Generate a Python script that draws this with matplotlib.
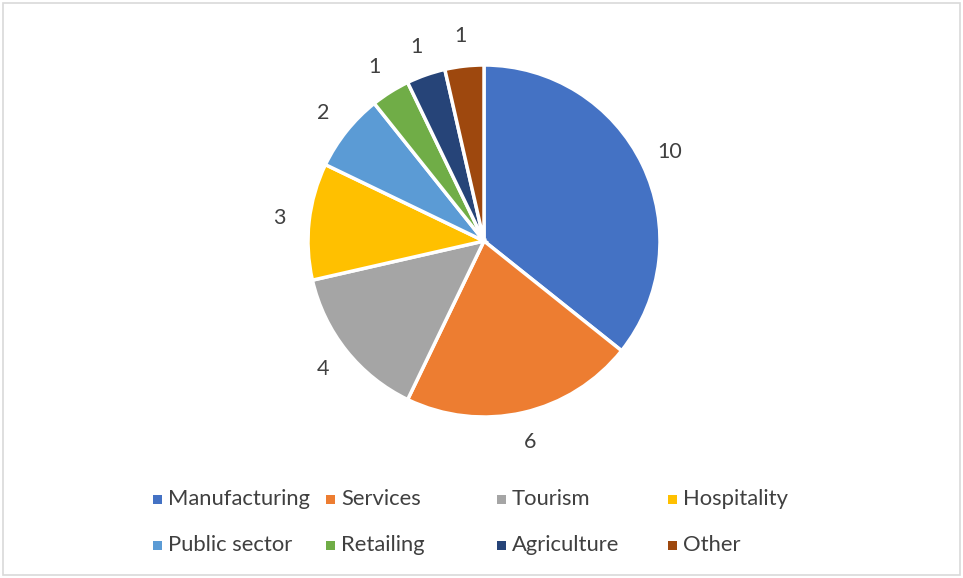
import matplotlib
matplotlib.use("Agg")
import matplotlib.pyplot as plt
from matplotlib.patches import Rectangle

categories = ["Manufacturing", "Services", "Tourism", "Hospitality",
              "Public sector", "Retailing", "Agriculture", "Other"]
counts = [10, 6, 4, 3, 2, 1, 1, 1]
colors = ["#4472C4", "#ED7D31", "#A5A5A5", "#FFC000",
          "#5B9BD5", "#70AD47", "#264478", "#9E480E"]

W, H = 963, 578
fig = plt.figure(figsize=(W / 100, H / 100), dpi=100)
fig.patch.set_facecolor("white")

# light chart-area border
fig.patches.append(Rectangle((3 / W, 3 / H), (W - 6) / W, (H - 6) / H,
                             transform=fig.transFigure, fill=False,
                             edgecolor="#D9D9D9", linewidth=1.2))

cx, cy, r = 484, 241, 176
ax = fig.add_axes([(cx - r) / W, (H - cy - r) / H, 2 * r / W, 2 * r / H])
wedges, texts = ax.pie(counts, colors=colors, startangle=90, counterclock=False,
                       labels=[str(c) for c in counts], labeldistance=1.17,
                       wedgeprops=dict(edgecolor="white", linewidth=2.5),
                       textprops=dict(fontsize=15.5, color="#404040", family="Lato"))
for t in texts:
    t.set_horizontalalignment("center")
    t.set_verticalalignment("center")
ax.set_xlim(-1, 1)
ax.set_ylim(-1, 1)
ax.set_aspect("equal")
ax.axis("off")

# legend: 4 equal-width columns, 2 rows
col_x = [153, 326, 497, 668]
row_y = [499, 545]
for i, (name, col) in enumerate(zip(categories, colors)):
    x = col_x[i % 4]
    y = row_y[i // 4]
    fig.patches.append(Rectangle((x / W, (H - y - 4.5) / H), 9 / W, 9 / H,
                                 transform=fig.transFigure, facecolor=col,
                                 edgecolor="none"))
    fig.text((x + 15) / W, (H - y) / H, name, fontsize=15.8, color="#404040",
             family="Lato", va="center", ha="left")

fig.savefig("out.png", dpi=100, facecolor="white")
